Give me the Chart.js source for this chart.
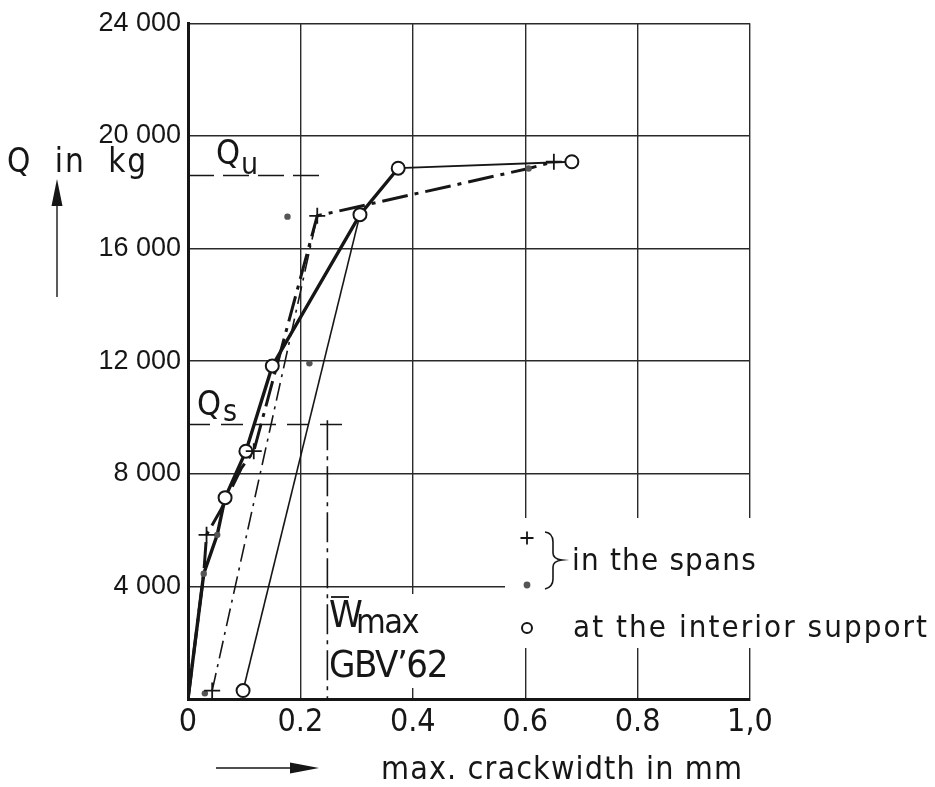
<!DOCTYPE html>
<html>
<head>
<meta charset="utf-8">
<title>Q – crack width</title>
<script src="https://cdn.jsdelivr.net/npm/chart.js@4.4.1/dist/chart.umd.min.js"></script>
<style>
  html, body { margin: 0; padding: 0; background: #fff; }
  canvas { display: block; }
</style>
</head>
<body>
<canvas id="chart" width="935" height="787"></canvas>
<script>
// Axis tick labels
const xTickLabels = ['0', '0.2', '0.4', '0.6', '0.8', '1,0'];
const yTickLabels = ['', '4 000', '8 000', '12 000', '16 000', '20 000', '24 000'];

// Measured points: max. crack width w (mm) against load Q (kg)
const spanPlusW = [0.043, 0.033, 0.117, 0.230, 0.651];
const spanPlusQ = [300, 5830, 8800, 17160, 19080];
const spanDotW  = [0.030, 0.028, 0.052, 0.216, 0.177, 0.606];
const spanDotQ  = [200, 4450, 5830, 11920, 17130, 18840];
const supportW  = [0.098, 0.066, 0.103, 0.150, 0.306, 0.374, 0.683];
const supportQ  = [300, 7150, 8800, 11830, 17200, 18850, 19080];

// Curves through the measurements
const supportCurveW  = [0, 0.028, 0.052, 0.066, 0.103, 0.150, 0.306, 0.374];
const supportCurveQ  = [0, 4450, 5830, 7150, 8800, 11830, 17200, 18850];
const supportTopW    = [0.374, 0.683];
const supportTopQ    = [18850, 19080];
const supportSecondW = [0.098, 0.306];
const supportSecondQ = [300, 17200];
const spanCurveW     = [0, 0.028, 0.033, 0.058, 0.095, 0.117, 0.230, 0.606, 0.651];
const spanCurveQ     = [0, 4450, 5830, 6700, 8200, 8800, 17160, 18840, 19080];
const spanSecondW    = [0.043, 0.230];
const spanSecondQ    = [300, 17160];

// Reference levels: ultimate load, service load, permitted crack width
const quLevelW = [0, 0.247];
const quLevelQ = [18590, 18590];
const qsLevelW = [0, 0.286];
const qsLevelQ = [9750, 9750];
const wmaxW = [0.248, 0.248];
const wmaxQ = [9900, 0];

const INK = '#161616';
const FONT = '"Liberation Sans Narrow", "DejaVu Sans Condensed", "Liberation Sans", sans-serif';

function pts(ws, qs) {
  return ws.map((w, i) => ({ x: w, y: qs[i] }));
}

function curve(ws, qs, width, dash) {
  return {
    type: 'line',
    data: pts(ws, qs),
    showLine: true,
    borderColor: INK,
    borderWidth: width,
    borderDash: dash || [],
    borderCapStyle: 'butt',
    pointRadius: 0,
    pointHoverRadius: 0,
    fill: false,
    tension: 0,
    order: 2
  };
}

// Text with letter spacing adjusted so that it covers a given width
function spacedText(ctx, text, x, y, size, width) {
  ctx.font = size + 'px ' + FONT;
  ctx.letterSpacing = '0px';
  let ls = 0;
  if (width) {
    const w0 = ctx.measureText(text).width;
    ls = (width - w0) / Math.max(1, text.length);
  }
  ctx.letterSpacing = ls.toFixed(2) + 'px';
  ctx.fillText(text, x, y);
  ctx.letterSpacing = '0px';
}

const notes = {
  id: 'notes',
  afterDraw(chart) {
    const ctx = chart.ctx;
    ctx.save();
    ctx.fillStyle = INK;
    ctx.strokeStyle = INK;
    ctx.textBaseline = 'alphabetic';
    ctx.textAlign = 'left';

    // Q_u and Q_s labels
    spacedText(ctx, 'Q', 216, 164, 34);
    spacedText(ctx, 'u', 241, 174, 30);
    spacedText(ctx, 'Q', 197, 415, 34);
    spacedText(ctx, 's', 223, 421, 30);

    // W̄max / GBV'62 label on a clear patch
    ctx.fillStyle = '#fff';
    ctx.fillRect(331, 594, 122, 94);
    ctx.fillStyle = INK;
    spacedText(ctx, 'W', 329, 627, 38);
    ctx.lineWidth = 1.8;
    ctx.beginPath();
    ctx.moveTo(331, 597);
    ctx.lineTo(349, 597);
    ctx.stroke();
    spacedText(ctx, 'max', 356, 633, 34, 62);
    spacedText(ctx, "GBV\u201962", 329, 677, 38, 118);

    // Legend
    ctx.fillStyle = '#fff';
    ctx.fillRect(505, 518, 430, 130);
    ctx.fillStyle = INK;
    Chart.helpers.drawPoint(ctx, { pointStyle: 'cross', radius: 6.5, borderWidth: 1.8 }, 527, 538);
    ctx.fillStyle = '#555';
    ctx.beginPath();
    ctx.arc(527, 585, 3.4, 0, Math.PI * 2);
    ctx.fill();
    ctx.fillStyle = '#fff';
    ctx.lineWidth = 2;
    ctx.beginPath();
    ctx.arc(527, 628, 5, 0, Math.PI * 2);
    ctx.fill();
    ctx.stroke();
    // brace grouping the two span symbols
    ctx.lineWidth = 1.6;
    ctx.beginPath();
    ctx.moveTo(545, 532);
    ctx.quadraticCurveTo(553, 533, 553, 542);
    ctx.lineTo(553, 553);
    ctx.quadraticCurveTo(553, 559, 562, 560);
    ctx.quadraticCurveTo(553, 561, 553, 567);
    ctx.lineTo(553, 579);
    ctx.quadraticCurveTo(553, 587, 545, 589);
    ctx.stroke();
    ctx.fillStyle = INK;
    spacedText(ctx, 'in the spans', 572, 570, 31, 185);
    spacedText(ctx, 'at the interior support', 573, 637, 31, 356);

    // Axis titles with arrows
    spacedText(ctx, 'Q  in  kg', 7, 172, 33, 141);
    ctx.lineWidth = 1.4;
    ctx.beginPath();
    ctx.moveTo(57, 297);
    ctx.lineTo(57, 200);
    ctx.stroke();
    ctx.beginPath();
    ctx.moveTo(57, 179);
    ctx.lineTo(51.5, 206);
    ctx.lineTo(62.5, 206);
    ctx.closePath();
    ctx.fill();

    spacedText(ctx, 'max. crackwidth in mm', 381, 779, 32, 362);
    ctx.beginPath();
    ctx.moveTo(216, 768);
    ctx.lineTo(292, 768);
    ctx.stroke();
    ctx.beginPath();
    ctx.moveTo(319, 768);
    ctx.lineTo(290, 762.5);
    ctx.lineTo(290, 773.5);
    ctx.closePath();
    ctx.fill();

    ctx.restore();
  }
};

new Chart(document.getElementById('chart'), {
  type: 'scatter',
  data: {
    datasets: [
      {
        label: 'in the spans (+)',
        data: pts(spanPlusW, spanPlusQ),
        pointStyle: 'cross',
        pointRadius: 8,
        pointBorderWidth: 1.8,
        borderColor: INK,
        backgroundColor: INK,
        showLine: false,
        order: 0
      },
      {
        label: 'in the spans (•)',
        data: pts(spanDotW, spanDotQ),
        pointStyle: 'circle',
        pointRadius: 3.2,
        pointBorderWidth: 0,
        borderColor: '#555',
        backgroundColor: '#555',
        showLine: false,
        order: 0
      },
      {
        label: 'at the interior support',
        data: pts(supportW, supportQ),
        pointStyle: 'circle',
        pointRadius: 6.5,
        pointBorderWidth: 2,
        borderColor: INK,
        backgroundColor: '#fff',
        showLine: false,
        order: 0
      },
      curve(supportCurveW, supportCurveQ, 3.4),
      curve(supportTopW, supportTopQ, 1.8),
      curve(supportSecondW, supportSecondQ, 1.6),
      curve(spanCurveW, spanCurveQ, 3, [26, 7, 4, 7]),
      curve(spanSecondW, spanSecondQ, 1.6, [18, 6, 3, 6]),
      curve(quLevelW, quLevelQ, 1.6, [26, 9]),
      curve(qsLevelW, qsLevelQ, 1.6, [22, 11]),
      curve(wmaxW, wmaxQ, 1.6, [30, 6, 4, 6])
    ]
  },
  options: {
    responsive: false,
    animation: false,
    devicePixelRatio: 1,
    layout: { padding: { left: 0, top: 20, right: 185, bottom: 0 } },
    plugins: {
      legend: { display: false },
      tooltip: { enabled: false },
      title: { display: false }
    },
    scales: {
      x: {
        type: 'linear',
        min: 0,
        max: 1,
        afterFit(scale) { scale.height = 88; },
        ticks: {
          stepSize: 0.2,
          autoSkip: false,
          maxRotation: 0,
          padding: 4,
          color: INK,
          font: { family: FONT, size: 32 },
          callback: (v, i) => xTickLabels[i] ?? ''
        },
        grid: { color: '#2a2a2a', lineWidth: 1.4, drawTicks: false },
        border: { color: INK, width: 3 }
      },
      y: {
        type: 'linear',
        min: 0,
        max: 24000,
        afterFit(scale) { scale.width = 188; },
        ticks: {
          stepSize: 4000,
          autoSkip: false,
          padding: 7,
          color: INK,
          font: { family: '"Liberation Sans", sans-serif', size: 27 },
          callback: (v, i) => yTickLabels[i] ?? ''
        },
        grid: { color: '#2a2a2a', lineWidth: 1.4, drawTicks: false },
        border: { color: INK, width: 3 }
      }
    }
  },
  plugins: [notes]
});
</script>
</body>
</html>
